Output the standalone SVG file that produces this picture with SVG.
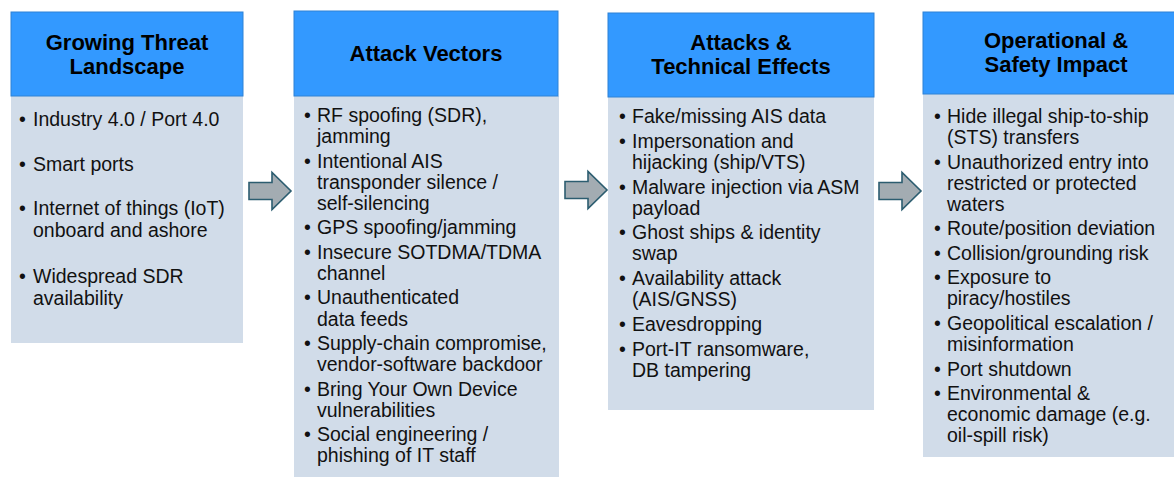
<svg xmlns="http://www.w3.org/2000/svg" width="1174" height="477" viewBox="0 0 1174 477">
  <style>
    .hdr { fill: #3399FF; stroke: #2F82D6; stroke-width: 1; }
    .body { fill: #D1DCE9; }
    .title { font-family: "Liberation Sans", Arial, sans-serif; font-size: 22px; font-weight: bold; fill: #000; text-anchor: middle; }
    .item { font-family: "Liberation Sans", Arial, sans-serif; font-size: 19.5px; fill: #111; }
    .arrow { fill: #A3ACB2; stroke: #2C5D70; stroke-width: 1.6; stroke-linejoin: miter; }
  </style>
  <defs>
    <!-- block arrow pointing right, origin at left end of shaft centre line -->
    <path id="blockArrow" d="M0,-8.5 H23 V-18.5 L42,0 L23,18.5 V8.5 H0 Z"/>
  </defs>

  <rect width="1174" height="477" fill="#FFFFFF"/>

  <!-- Column 1 -->
  <g id="growing-threat-landscape">
    <rect class="body" x="11" y="96" width="232" height="247"/>
    <rect class="hdr" x="11" y="12" width="232" height="84"/>
    <text class="title"><tspan x="127" y="50">Growing Threat</tspan><tspan x="127" y="74">Landscape</tspan></text>
    <text class="item">
      <tspan x="19" y="126">•</tspan><tspan x="33">Industry 4.0 / Port 4.0</tspan>
      <tspan x="19" y="171">•</tspan><tspan x="33">Smart ports</tspan>
      <tspan x="19" y="215">•</tspan><tspan x="33">Internet of things (IoT)</tspan>
      <tspan x="33" y="237">onboard and ashore</tspan>
      <tspan x="19" y="283">•</tspan><tspan x="33">Widespread SDR</tspan>
      <tspan x="33" y="305">availability</tspan>
    </text>
  </g>

  <!-- Column 2 -->
  <g id="attack-vectors">
    <rect class="body" x="294" y="96" width="265" height="381"/>
    <rect class="hdr" x="294" y="11" width="264" height="85"/>
    <text class="title" x="426" y="61">Attack Vectors</text>
    <text class="item">
      <tspan x="304" y="122">•</tspan><tspan x="317">RF spoofing (SDR),</tspan>
      <tspan x="317" y="143.2">jamming</tspan>
      <tspan x="304" y="167.6">•</tspan><tspan x="317">Intentional AIS</tspan>
      <tspan x="317" y="188.8">transponder silence /</tspan>
      <tspan x="317" y="210">self-silencing</tspan>
      <tspan x="304" y="234.4">•</tspan><tspan x="317">GPS spoofing/jamming</tspan>
      <tspan x="304" y="258.8">•</tspan><tspan x="317">Insecure SOTDMA/TDMA</tspan>
      <tspan x="317" y="280">channel</tspan>
      <tspan x="304" y="304.4">•</tspan><tspan x="317">Unauthenticated</tspan>
      <tspan x="317" y="325.6">data feeds</tspan>
      <tspan x="304" y="350">•</tspan><tspan x="317">Supply-chain compromise,</tspan>
      <tspan x="317" y="371.2">vendor-software backdoor</tspan>
      <tspan x="304" y="395.6">•</tspan><tspan x="317">Bring Your Own Device</tspan>
      <tspan x="317" y="416.8">vulnerabilities</tspan>
      <tspan x="304" y="441.2">•</tspan><tspan x="317">Social engineering /</tspan>
      <tspan x="317" y="462.4">phishing of IT staff</tspan>
    </text>
  </g>

  <!-- Column 3 -->
  <g id="attacks-technical-effects">
    <rect class="body" x="608" y="97" width="266" height="313"/>
    <rect class="hdr" x="608" y="13" width="266" height="84"/>
    <text class="title"><tspan x="741" y="50">Attacks &amp;</tspan><tspan x="741" y="74">Technical Effects</tspan></text>
    <text class="item">
      <tspan x="619" y="123">•</tspan><tspan x="632">Fake/missing AIS data</tspan>
      <tspan x="619" y="147.8">•</tspan><tspan x="632">Impersonation and</tspan>
      <tspan x="632" y="168.8">hijacking (ship/VTS)</tspan>
      <tspan x="619" y="193.6">•</tspan><tspan x="632">Malware injection via ASM</tspan>
      <tspan x="632" y="214.6">payload</tspan>
      <tspan x="619" y="239.4">•</tspan><tspan x="632">Ghost ships &amp; identity</tspan>
      <tspan x="632" y="260.4">swap</tspan>
      <tspan x="619" y="285.2">•</tspan><tspan x="632">Availability attack</tspan>
      <tspan x="632" y="306.2">(AIS/GNSS)</tspan>
      <tspan x="619" y="331">•</tspan><tspan x="632">Eavesdropping</tspan>
      <tspan x="619" y="355.8">•</tspan><tspan x="632">Port-IT ransomware,</tspan>
      <tspan x="632" y="376.8">DB tampering</tspan>
    </text>
  </g>

  <!-- Column 4 -->
  <g id="operational-safety-impact">
    <rect class="body" x="923" y="94" width="266" height="363"/>
    <rect class="hdr" x="923" y="12" width="266" height="82"/>
    <text class="title"><tspan x="1056" y="48">Operational &amp;</tspan><tspan x="1056" y="72">Safety Impact</tspan></text>
    <text class="item">
      <tspan x="934" y="123">•</tspan><tspan x="947">Hide illegal ship-to-ship</tspan>
      <tspan x="947" y="144">(STS) transfers</tspan>
      <tspan x="934" y="168.6">•</tspan><tspan x="947">Unauthorized entry into</tspan>
      <tspan x="947" y="189.6">restricted or protected</tspan>
      <tspan x="947" y="210.6">waters</tspan>
      <tspan x="934" y="235.2">•</tspan><tspan x="947">Route/position deviation</tspan>
      <tspan x="934" y="259.8">•</tspan><tspan x="947">Collision/grounding risk</tspan>
      <tspan x="934" y="284.4">•</tspan><tspan x="947">Exposure to</tspan>
      <tspan x="947" y="305.4">piracy/hostiles</tspan>
      <tspan x="934" y="330">•</tspan><tspan x="947">Geopolitical escalation /</tspan>
      <tspan x="947" y="351">misinformation</tspan>
      <tspan x="934" y="375.6">•</tspan><tspan x="947">Port shutdown</tspan>
      <tspan x="934" y="400.2">•</tspan><tspan x="947">Environmental &amp;</tspan>
      <tspan x="947" y="421.2">economic damage (e.g.</tspan>
      <tspan x="947" y="442.2">oil-spill risk)</tspan>
    </text>
  </g>

  <!-- Flow arrows between columns -->
  <g id="connectors">
    <use href="#blockArrow" class="arrow" x="249" y="191"/>
    <use href="#blockArrow" class="arrow" x="565" y="190"/>
    <use href="#blockArrow" class="arrow" x="879" y="191"/>
  </g>
</svg>
